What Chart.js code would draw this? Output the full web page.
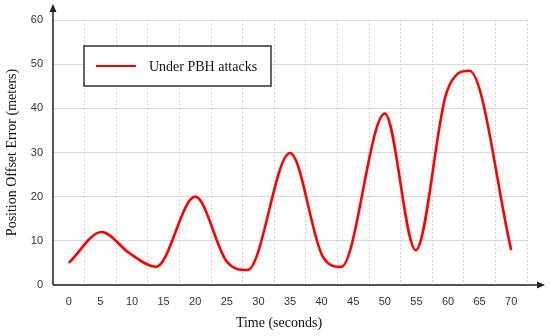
<!DOCTYPE html>
<html>
<head>
<meta charset="utf-8">
<script src="https://cdn.jsdelivr.net/npm/chart.js@4/dist/chart.umd.min.js"></script>
<style>
	html, body { margin: 0; padding: 0; background: #fff; }
	#wrap { width: 550px; height: 336px; }
</style>
</head>
<body>
<div id="wrap"><canvas id="canvas" width="550" height="336"></canvas></div>
<script>
// data (time in seconds, error in meters)
const times = [0, 5.2, 9.6, 13.8, 20, 25, 28.3, 35, 40.2, 43.1, 50, 54.9, 59.8, 63.4, 70];
const errors = [5, 12, 7.2, 4.1, 20, 5.3, 3.4, 29.9, 6.4, 4.1, 38.8, 7.9, 43.7, 48.5, 7.9];
const xTicks = [0, 5, 10, 15, 20, 25, 30, 35, 40, 45, 50, 55, 60, 65, 70];
const yTicks = [0, 10, 20, 30, 40, 50, 60];
const seriesName = "Under PBH attacks";
const xTitle = "Time (seconds)";
const yTitle = "Position Offset Error (meters)";

const serif = "'Liberation Serif', 'Times New Roman', serif";
const sans = "'Liberation Sans', Arial, sans-serif";

// axis lines with arrow heads
const arrowAxes = {
	id: "arrowAxes",
	afterDatasetsDraw(chart) {
		const { ctx, chartArea } = chart;
		const x0 = chartArea.left, y0 = chartArea.bottom;
		ctx.save();
		ctx.strokeStyle = "#222";
		ctx.fillStyle = "#222";
		ctx.lineWidth = 1.5;
		ctx.beginPath();
		ctx.moveTo(x0, y0);
		ctx.lineTo(x0, 9);
		ctx.moveTo(x0, y0);
		ctx.lineTo(539, y0);
		ctx.stroke();
		ctx.beginPath();
		ctx.moveTo(x0, 4);
		ctx.lineTo(x0 - 3.5, 12);
		ctx.lineTo(x0 + 3.5, 12);
		ctx.closePath();
		ctx.fill();
		ctx.beginPath();
		ctx.moveTo(545, y0);
		ctx.lineTo(537, y0 - 3.5);
		ctx.lineTo(537, y0 + 3.5);
		ctx.closePath();
		ctx.fill();
		// x title sits a little left of the plot centre in the original
		ctx.fillStyle = "#111";
		ctx.font = "14px " + serif;
		ctx.textAlign = "center";
		ctx.textBaseline = "middle";
		ctx.fillText(xTitle, 279, 323);
		ctx.restore();
	},
};

// boxed legend inside the plot
const boxLegend = {
	id: "boxLegend",
	afterDatasetsDraw(chart) {
		const { ctx, chartArea } = chart;
		const ds = chart.data.datasets[0];
		const bx = chartArea.left + 31, by = chartArea.top + 26, bw = 187, bh = 40;
		ctx.save();
		ctx.fillStyle = "#fff";
		ctx.fillRect(bx, by, bw, bh);
		ctx.strokeStyle = "#333";
		ctx.lineWidth = 1.5;
		ctx.strokeRect(bx, by, bw, bh);
		ctx.strokeStyle = ds.borderColor;
		ctx.lineWidth = 2;
		ctx.beginPath();
		ctx.moveTo(bx + 12, by + bh / 2);
		ctx.lineTo(bx + 52, by + bh / 2);
		ctx.stroke();
		ctx.fillStyle = "#111";
		ctx.font = "14px " + serif;
		ctx.textBaseline = "middle";
		ctx.fillText(ds.label, bx + 65, by + bh / 2 + 1);
		ctx.restore();
	},
};

window.onload = () => {
	const canvas = document.getElementById("canvas").getContext("2d");

	const config = {
		type: "line",
		data: {
			datasets: [{
				label: seriesName,
				data: times.map((t, i) => ({ x: t, y: errors[i] })),
				borderColor: "#ff0000",
				borderWidth: 2.6,
				pointRadius: 0,
				fill: false,
				cubicInterpolationMode: "monotone",
			}],
		},
		options: {
			responsive: false,
			animation: false,
			layout: { padding: { top: 20, right: 23, left: 0, bottom: 0 } },
			plugins: {
				legend: { display: false },
				tooltip: { enabled: false },
			},
			scales: {
				x: {
					type: "linear",
					min: -2.5,
					max: 72.5,
					afterBuildTicks: (axis) => { axis.ticks = xTicks.map(v => ({ value: v })); },
					afterFit: (axis) => { axis.height = 51; },
					grid: { offset: true, color: "#d4d4d4", lineWidth: 1, drawTicks: false },
					border: { display: false, dash: [2, 2] },
					ticks: { color: "#333", font: { family: sans, size: 11 }, padding: 10, maxRotation: 0 },
				},
				y: {
					min: 0,
					max: 60,
					afterBuildTicks: (axis) => { axis.ticks = yTicks.map(v => ({ value: v })); },
					afterFit: (axis) => { axis.width = 53; },
					grid: { color: "#dadada", lineWidth: 1, drawTicks: false },
					border: { display: false },
					ticks: { color: "#333", font: { family: sans, size: 11 }, padding: 10 },
					title: {
						display: true,
						text: yTitle,
						color: "#111",
						font: { family: serif, size: 14 },
						padding: { top: 4, bottom: 4 },
					},
				},
			},
		},
		plugins: [arrowAxes, boxLegend],
	};

	new Chart(canvas, config);
};
</script>
</body>
</html>
